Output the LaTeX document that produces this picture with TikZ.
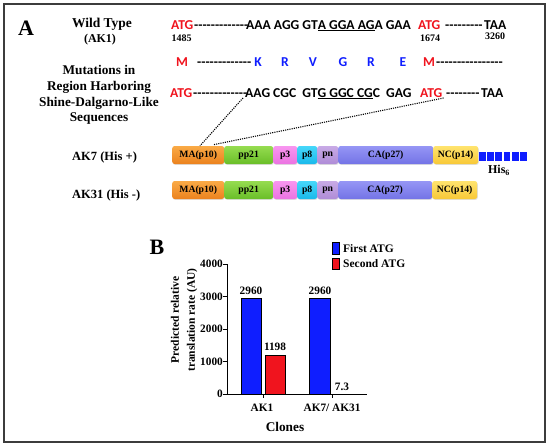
\documentclass[tikz,border=0pt]{standalone}
\usepackage{fontspec}
\setmainfont{Liberation Serif}
\newfontfamily\calf{Carlito}
\usetikzlibrary{calc,shadows}
\definecolor{myred}{RGB}{240,20,30}
\definecolor{myblue}{RGB}{15,30,255}
\definecolor{frm}{RGB}{60,60,60}
\definecolor{maT}{RGB}{250,170,70}\definecolor{maB}{RGB}{235,130,30}
\definecolor{ppT}{RGB}{150,220,80}\definecolor{ppB}{RGB}{105,190,40}
\definecolor{p3T}{RGB}{248,150,240}\definecolor{p3B}{RGB}{235,115,225}
\definecolor{p8T}{RGB}{70,215,250}\definecolor{p8B}{RGB}{25,185,235}
\definecolor{pnT}{RGB}{200,170,230}\definecolor{pnB}{RGB}{175,140,215}
\definecolor{caT}{RGB}{150,150,245}\definecolor{caB}{RGB}{115,115,230}
\definecolor{ncT}{RGB}{255,228,110}\definecolor{ncB}{RGB}{248,200,55}
\newcommand{\myfs}[1]{\fontsize{#1}{#1}\selectfont}
\newcommand{\hyps}[1]{\count255=0 \loop -{}\advance\count255 by 1 \ifnum\count255<#1\repeat}
\begin{document}
\begin{tikzpicture}[x=1pt,y=-1pt,
  seq/.style={font=\calf\bfseries\myfs{13.6}, inner sep=0, anchor=base west},
  aa/.style={font=\calf\bfseries\myfs{13.6}, inner sep=0, anchor=base, text=myblue},
  num/.style={font=\bfseries\myfs{10}, inner sep=0},
  lab/.style={font=\bfseries\myfs{13.3}, inner sep=0, align=center},
  seg/.style={rounded corners=2.5pt, minimum height=18pt, inner sep=0, anchor=west,
    font=\bfseries\myfs{9.7}, drop shadow={opacity=0.25, shadow xshift=0.6pt, shadow yshift=-0.9pt}},
  ma/.style={seg, top color=maT, bottom color=maB, minimum width=52pt},
  pp/.style={seg, top color=ppT, bottom color=ppB, minimum width=49pt},
  pthree/.style={seg, top color=p3T, bottom color=p3B, minimum width=24pt},
  peight/.style={seg, top color=p8T, bottom color=p8B, minimum width=20pt},
  pnn/.style={seg, top color=pnT, bottom color=pnB, minimum width=21pt},
  ca/.style={seg, top color=caT, bottom color=caB},
  nc/.style={seg, top color=ncT, bottom color=ncB, minimum width=45pt},
  dotl/.style={line width=1.1pt, dash pattern=on 1.1pt off 1.1pt},
  bar/.style={draw=black, line width=0.5pt},
  cht/.style={font=\bfseries\myfs{11.3}, inner sep=0}]
\useasboundingbox (0,0) rectangle (550,447);
\fill[white] (0,0) rectangle (550,447);
\draw[frm, line width=1.5pt] (4,4) rectangle (545,442);

% left labels
\node[font=\bfseries\myfs{22}, inner sep=0] (A) at (26,28) {A};
\node[lab, font=\bfseries\myfs{13.5}] (wt) at (102,24) {Wild Type};
\node[lab, font=\bfseries\myfs{12}] (ak1) at (100,40) {(AK1)};
\node[lab, font={\bfseries\fontsize{13.3}{15.7}\selectfont}] (mut) at (99,95) {Mutations in\\Region Harboring\\Shine-Dalgarno-Like\\Sequences};
\node[lab, anchor=west, font=\bfseries\myfs{12.5}] (ak7) at (72,157) {AK7 (His +)};
\node[lab, anchor=west, font=\bfseries\myfs{12.5}] (ak31) at (72,195) {AK31 (His -)};

% row 1
\node[seq, text=myred] (atg1) at (171,29) {ATG};
\node[seq] (d1) at (194,29) {\hyps{13}};
\node[seq] (s1) at (246,29) {AAA AGG GT\underline{A GGA AG}A GAA};
\node[seq, text=myred] (atg2) at (418,29) {ATG};
\node[seq] (d2) at (445,29) {\hyps{9}};
\node[seq] (taa1) at (484,29) {TAA};
\node[num] (n1485) at (181.5,38.5) {1485};
\node[num] (n1674) at (430,38.5) {1674};
\node[num] (n3260) at (495,36.5) {3260};

% row 2
\node[aa, text=myred] (m1) at (182,66) {M};
\node[seq] (d5) at (197,66) {\hyps{13}};
\node[aa] (k) at (258,66) {K};
\node[aa] (r1) at (285,66) {R};
\node[aa] (v) at (313,66) {V};
\node[aa] (g) at (343,66) {G};
\node[aa] (r2) at (371,66) {R};
\node[aa] (e) at (403,66) {E};
\node[aa, text=myred] (m2) at (429,66) {M};
\node[seq] (d6) at (436,66) {\hyps{16}};

% row 3
\node[seq, text=myred] (atg3) at (170,97) {ATG};
\node[seq] (d3) at (193,97) {\hyps{13}};
\node[seq] (s3) at (245,97) {AAG CGC\ \ GT\underline{G GGC CG}C\ \ GAG};
\node[seq, text=myred] (atg4) at (420,97) {ATG};
\node[seq] (d4) at (446,97) {\hyps{8}};
\node[seq] (taa2) at (481,97) {TAA};

% AK7 boxes
\node[ma] (ma7) at (172,155) {MA(p10)};
\node[pp] (pp7) at (224,155) {pp21};
\node[pthree] (p37) at (273,155) {p3};
\node[peight] (p87) at (297,155) {p8};
\node[pnn] (pn7) at (317,155) {pn};
\node[ca, minimum width=95pt] (ca7) at (338,155) {CA(p27)};
\node[nc] (nc7) at (433,155) {NC(p14)};
\foreach \i in {0,...,5} {
  \fill[myblue] ({479+\i*8.2},152) rectangle ({485.8+\i*8.2},160.5);
}
\node[font=\bfseries\myfs{12}, inner sep=0] (his) at (499,170) {His\textsubscript{6}};

% AK31 boxes
\node[ma] (ma31) at (172,190) {MA(p10)};
\node[pp] (pp31) at (224,190) {pp21};
\node[pthree] (p331) at (273,190) {p3};
\node[peight] (p831) at (297,190) {p8};
\node[pnn] (pn31) at (317,190) {pn};
\node[ca, minimum width=94pt] (ca31) at (338,190) {CA(p27)};
\node[nc] (nc31) at (432,190) {NC(p14)};

% dotted connectors
\draw[dotl] ($(s3.base west)+(-2,1)$) -- ($(ma7.north west)+(28,0)$);
\draw[dotl] ($(atg4.base east)+(1,1)$) -- ($(ma7.north west)+(41,-1)$);

% panel B
\node[font=\bfseries\myfs{22}, inner sep=0] (B) at (157,247) {B};
\draw[line width=0.8pt] (227,264) -- (227,394) -- (367,394);
\foreach \v in {0,1000,2000,3000,4000} {
  \draw[line width=0.8pt] (223,{394-\v*0.0325}) -- (227,{394-\v*0.0325});
  \node[cht, anchor=east] at (223,{394-\v*0.0325}) {\v};
}
\draw[line width=0.8pt] (263,394) -- (263,398);
\draw[line width=0.8pt] (332,394) -- (332,398);
\draw[bar, fill=myblue] (241,394) rectangle (261,{394-2960*0.0325});
\draw[bar, fill=myred] (265,394) rectangle (285,{394-1198*0.0325});
\draw[bar, fill=myblue] (309,394) rectangle (330,{394-2960*0.0325});
\node[cht] (v1) at (251,290.5) {2960};
\node[cht] (v2) at (275,347) {1198};
\node[cht] (v3) at (320,290.5) {2960};
\node[cht] (v4) at (342,387) {7.3};
\node[cht] (x1) at (262,408) {AK1};
\node[cht] (x2) at (332,408) {AK7/ AK31};
\node[cht, font=\bfseries\myfs{13.3}] (xl) at (285,427) {Clones};
\node[cht, rotate=90, align=center, font={\bfseries\fontsize{11.5}{16}\selectfont}] (yl) at (184,320) {Predicted relative\\translation rate (AU)};
\draw[bar, fill=myblue] (332,242.5) rectangle (339,254);
\draw[bar, fill=myred] (332,258.5) rectangle (339,269.5);
\node[cht, anchor=west, font=\bfseries\myfs{11.5}] (lg1) at (343,248.5) {First ATG};
\node[cht, anchor=west, font=\bfseries\myfs{11.5}] (lg2) at (343,264) {Second ATG};
\end{tikzpicture}
\end{document}
